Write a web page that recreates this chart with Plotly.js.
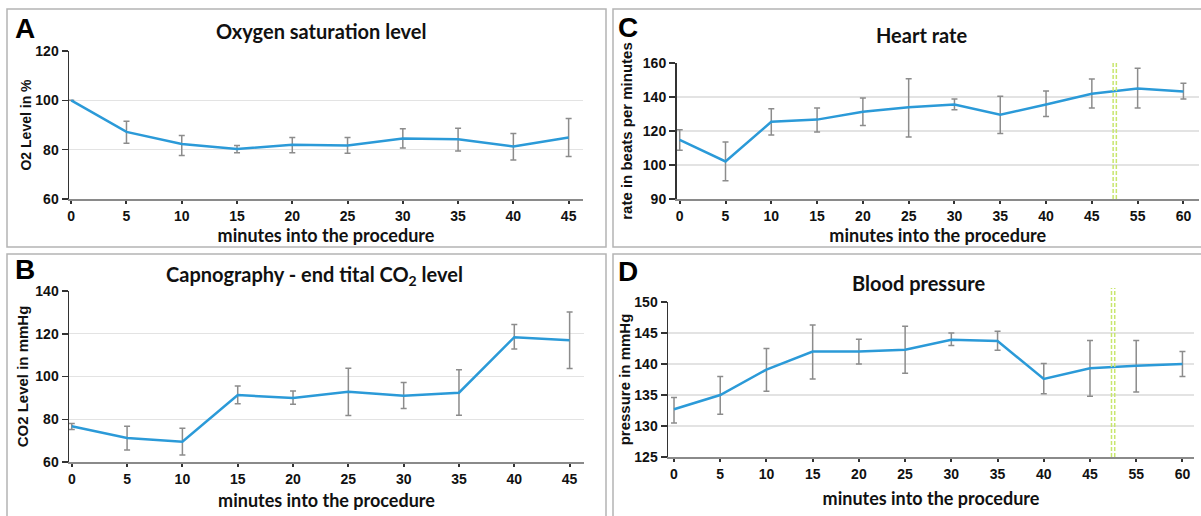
<!DOCTYPE html>
<html>
<head>
<meta charset="utf-8">
<script src="https://cdn.plot.ly/plotly-3.0.1.min.js"></script>
<style>
html,body{margin:0;padding:0;background:#fff;}
#chart{width:1201px;height:516px;}
</style>
</head>
<body>
<div id="chart"></div>
<script>
// ---------- data ----------
const minutesAB = [0, 5, 10, 15, 20, 25, 30, 35, 40, 45];
const minutesCD = ['0', '5', '10', '15', '20', '25', '30', '35', '40', '45', '55', '60'];

const o2Mean  = [100, 87.2, 82.3, 80.3, 82.0, 81.7, 84.5, 84.2, 81.3, 84.9];
const o2Upper = [null, 91.5, 85.7, 81.7, 84.9, 84.9, 88.5, 88.7, 86.6, 92.6];
const o2Lower = [null, 82.6, 77.6, 78.7, 78.8, 78.5, 80.7, 79.5, 75.8, 77.2];

const co2Mean  = [76.7, 71.2, 69.5, 91.3, 89.9, 92.9, 91.0, 92.4, 118.4, 117.0];
const co2Upper = [78.0, 76.7, 75.8, 95.5, 93.2, 103.9, 97.2, 103.1, 124.3, 130.2];
const co2Lower = [75.2, 65.6, 63.3, 87.3, 87.0, 81.7, 85.0, 81.9, 112.9, 103.7];

const hrMean  = [114.8, 102.1, 125.4, 126.7, 131.3, 134.0, 135.6, 129.6, 135.6, 141.9, 145.0, 143.3];
const hrUpper = [120.8, 113.5, 133.1, 133.5, 139.4, 150.8, 138.8, 140.4, 143.5, 150.6, 156.9, 148.1];
const hrLower = [108.7, 90.8, 117.7, 119.4, 123.3, 116.5, 132.5, 118.5, 128.5, 133.6, 133.6, 138.8];

const bpMean  = [132.7, 135.0, 139.1, 142.0, 142.0, 142.3, 143.9, 143.7, 137.6, 139.3, 139.7, 140.0];
const bpUpper = [134.6, 138.0, 142.5, 146.3, 144.0, 146.1, 145.0, 145.3, 140.1, 143.8, 143.8, 142.0];
const bpLower = [130.5, 131.9, 135.6, 137.6, 140.0, 138.5, 143.0, 142.2, 135.2, 134.8, 135.5, 138.0];

const o2Ticks  = [60, 80, 100, 120];
const co2Ticks = [60, 80, 100, 120, 140];
const hrTickVals = [80, 100, 120, 140, 160];
const hrTickText = ['90', '100', '120', '140', '160'];
const bpTicks  = [125, 130, 135, 140, 145, 150];

const panelTitles = ['Oxygen saturation level', 'Capnography - end tital CO<sub>2</sub> level', 'Heart rate', 'Blood pressure'];
const panelLetters = ['A', 'B', 'C', 'D'];
const xTitle = 'minutes into the procedure';
const yTitles = ['O2 Level in %', 'CO2 Level in mmHg', 'rate in beats per minutes', 'pressure in mmHg'];

// ---------- helpers ----------
const W = 1201, H = 516;
const px = v => v / W;
const py = v => 1 - v / H;
const LINE = '#2b9ad8';
const ERR = '#8c8c8c';

function errs(mean, up, lo) {
  return {
    type: 'data', symmetric: false,
    array: mean.map((m, i) => up[i] == null ? null : up[i] - m),
    arrayminus: mean.map((m, i) => lo[i] == null ? null : m - lo[i]),
    color: ERR, thickness: 1.5, width: 3
  };
}
function trace(x, mean, up, lo, xa, ya) {
  return {
    x: x, y: mean, type: 'scatter', mode: 'lines',
    line: {color: LINE, width: 2.5},
    error_y: errs(mean, up, lo),
    xaxis: xa, yaxis: ya, showlegend: false, hoverinfo: 'x+y'
  };
}

const tickFont = {family: 'Liberation Sans, Arial, sans-serif', size: 14, color: '#111', weight: 700};
const xTitleFont = {family: 'Lato, Open Sans, sans-serif', size: 18, color: '#111', weight: 700};

function xaxis(domain, range, standoff, extra) {
  return Object.assign({
    domain: domain, range: range, showgrid: false, zeroline: false,
    showline: true, linecolor: '#8a8a8a', linewidth: 2,
    ticks: 'outside', ticklen: 3, tickwidth: 2, tickcolor: '#333',
    tickfont: tickFont,
    title: {text: '<b>' + xTitle + '</b>', font: xTitleFont, standoff: standoff},
    fixedrange: true
  }, extra || {});
}
function yaxis(domain, range, title, tsize, standoff, extra) {
  return Object.assign({
    domain: domain, range: range, showgrid: true, gridcolor: '#e3e3e3', gridwidth: 1.2,
    zeroline: false, showline: true, linecolor: '#333', linewidth: 1.5,
    ticks: 'outside', ticklen: 6, tickwidth: 1.5, tickcolor: '#333',
    tickfont: tickFont,
    title: {text: '<b>' + title + '</b>', font: {family: 'Liberation Sans, Arial, sans-serif', size: tsize, color: '#111'}, standoff: standoff},
    fixedrange: true
  }, extra || {});
}

const data = [
  trace(minutesAB, o2Mean, o2Upper, o2Lower, 'x', 'y'),
  trace(minutesAB, co2Mean, co2Upper, co2Lower, 'x2', 'y2'),
  trace(minutesCD, hrMean, hrUpper, hrLower, 'x3', 'y3'),
  trace(minutesCD, bpMean, bpUpper, bpLower, 'x4', 'y4')
];

const catX = {type: 'category', categoryorder: 'array', categoryarray: minutesCD};

const layout = {
  width: W, height: H,
  margin: {l: 0, r: 0, t: 0, b: 0},
  paper_bgcolor: '#fff', plot_bgcolor: 'rgba(0,0,0,0)',
  showlegend: false,
  xaxis:  xaxis([px(69), px(583)], [-0.2, 46.3], 5, {dtick: 5, tick0: 0}),
  yaxis:  yaxis([py(199), py(51)], [60, 120], yTitles[0], 14, 0, {tickvals: o2Ticks}),
  xaxis2: xaxis([px(69), px(584)], [-0.25, 46.3], 9, {dtick: 5, tick0: 0, anchor: 'y2'}),
  yaxis2: yaxis([py(462), py(291)], [60, 140], yTitles[1], 15, 3, {tickvals: co2Ticks, anchor: 'x2'}),
  xaxis3: xaxis([px(676.5), px(1199)], [-0.07, 11.34], 2, Object.assign({anchor: 'y3'}, catX)),
  yaxis3: yaxis([py(199), py(63)], [80, 160], yTitles[2], 15, 6, {tickvals: hrTickVals, ticktext: hrTickText, anchor: 'x3'}),
  xaxis4: xaxis([px(668), px(1194)], [-0.13, 11.25], 12, Object.assign({anchor: 'y4'}, catX)),
  yaxis4: yaxis([py(457), py(302)], [125, 150], yTitles[3], 15, 0, {tickvals: bpTicks, anchor: 'x4'}),
  shapes: [],
  annotations: []
};

// panel borders
const borders = [[7, 9, 606, 247], [7, 254, 606, 530], [613, 9, 1215, 247], [613, 254, 1215, 530]];
borders.forEach(b => layout.shapes.push({
  type: 'rect', xref: 'paper', yref: 'paper',
  x0: px(b[0]), x1: px(b[2]), y0: py(b[3]), y1: py(b[1]),
  line: {color: '#b4b4b4', width: 1.5}, fillcolor: 'rgba(0,0,0,0)', layer: 'below'
}));

// double dashed green markers between 45 and 55
[['x3', 'y3', 0.0, 1.0], ['x4', 'y4', 0.0, 1.09]].forEach(s => {
  [-0.035, 0.035].forEach(d => layout.shapes.push({
    type: 'line', xref: s[0], yref: s[1] + ' domain',
    x0: 9.5 + d, x1: 9.5 + d, y0: s[2], y1: s[3],
    line: {color: '#c8e66e', width: 1.5, dash: '4px,2px'}
  }));
});

// panel titles and letters
const titlePos = [[321, 31], [314, 275], [921, 35], [918, 283]];
const letterPos = [[25, 29], [25, 269], [628, 28], [628, 271]];
panelTitles.forEach((t, i) => {
  layout.annotations.push({
    text: '<b>' + t + '</b>', xref: 'paper', yref: 'paper',
    x: px(titlePos[i][0]), y: py(titlePos[i][1]), xanchor: 'center', yanchor: 'middle',
    showarrow: false, font: {family: 'Lato, Open Sans, sans-serif', size: 20, color: '#111'}
  });
  layout.annotations.push({
    text: '<b>' + panelLetters[i] + '</b>', xref: 'paper', yref: 'paper',
    x: px(letterPos[i][0]), y: py(letterPos[i][1]), xanchor: 'center', yanchor: 'middle',
    showarrow: false, font: {family: 'Liberation Sans, Arial, sans-serif', size: 28, color: '#000'}
  });
});

Plotly.newPlot('chart', data, layout, {staticPlot: true, displayModeBar: false});
</script>
</body>
</html>
